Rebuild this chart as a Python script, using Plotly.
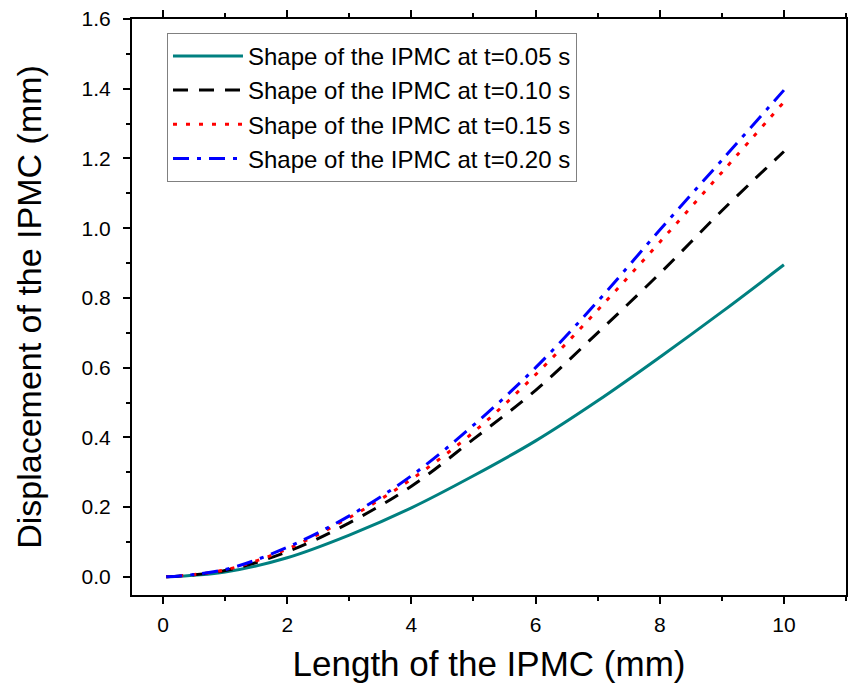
import plotly.graph_objects as go

# Data
length_mm = [0.05, 1, 2, 3, 4, 5, 6, 7, 8, 9, 10]
disp_t005 = [0.0, 0.014, 0.055, 0.12, 0.198, 0.29, 0.39, 0.505, 0.63, 0.76, 0.895]
disp_t010 = [0.0, 0.018, 0.072, 0.155, 0.26, 0.395, 0.535, 0.70, 0.87, 1.05, 1.22]
disp_t015 = [0.0, 0.020, 0.080, 0.17, 0.28, 0.415, 0.58, 0.765, 0.96, 1.16, 1.362]
disp_t020 = [0.0, 0.021, 0.085, 0.175, 0.29, 0.435, 0.60, 0.79, 0.995, 1.195, 1.396]

series_names = [
    "Shape of the IPMC at t=0.05 s",
    "Shape of the IPMC at t=0.10 s",
    "Shape of the IPMC at t=0.15 s",
    "Shape of the IPMC at t=0.20 s",
]
series_values = [disp_t005, disp_t010, disp_t015, disp_t020]
colors = ["#008080", "#000000", "#ff0000", "#0000ff"]
dashes = ["solid", "15px,11px", "4px,9px", "16px,8px,4px,8px"]

fig = go.Figure()
for i, (name, vals) in enumerate(zip(series_names, series_values)):
    fig.add_trace(go.Scatter(
        x=length_mm, y=vals, mode="lines", name=name,
        legendgroup=f"g{i}",
        line=dict(color=colors[i], dash=dashes[i], width=3, shape="spline", smoothing=1.0),
    ))

font_family = "Liberation Sans, Arial, sans-serif"
axis_common = dict(
    showline=True, linecolor="black", linewidth=2,
    ticks="outside", ticklen=7, tickwidth=2, tickcolor="black",
    showgrid=False, zeroline=False,
    tickfont=dict(family=font_family, size=21, color="black"),
)

fig.update_layout(
    width=849, height=690, autosize=False,
    paper_bgcolor="white", plot_bgcolor="white",
    margin=dict(l=132, r=1, t=19, b=95),
    font=dict(family=font_family, color="black"),
    xaxis=dict(
        range=[-0.5, 11], tick0=0, dtick=2, ticklabelstandoff=3, mirror="allticks",
        minor=dict(ticks="outside", ticklen=4, tickwidth=2, tickcolor="black", dtick=1, tick0=0),
        title=dict(text="Length of the IPMC (mm)", font=dict(family=font_family, size=35), standoff=16),
        **axis_common,
    ),
    yaxis=dict(
        range=[-0.052, 1.6], tick0=0, dtick=0.2, tickformat=".1f", ticklabelstandoff=8, mirror=True,
        minor=dict(ticks="outside", ticklen=4, tickwidth=2, tickcolor="black", dtick=0.1, tick0=0),
        title=dict(text="Displacement of the IPMC (mm)", font=dict(family=font_family, size=34), standoff=30),
        **axis_common,
    ),
    legend=dict(
        x=0.049, y=0.976, xanchor="left", yanchor="top",
        bgcolor="white", bordercolor="#808080", borderwidth=1,
        font=dict(family=font_family, size=24, color="black"),
        tracegroupgap=0, itemwidth=70,
    ),
)

fig.write_html("out.html", config={"displayModeBar": False},
               post_script="document.body.style.margin='0';")
